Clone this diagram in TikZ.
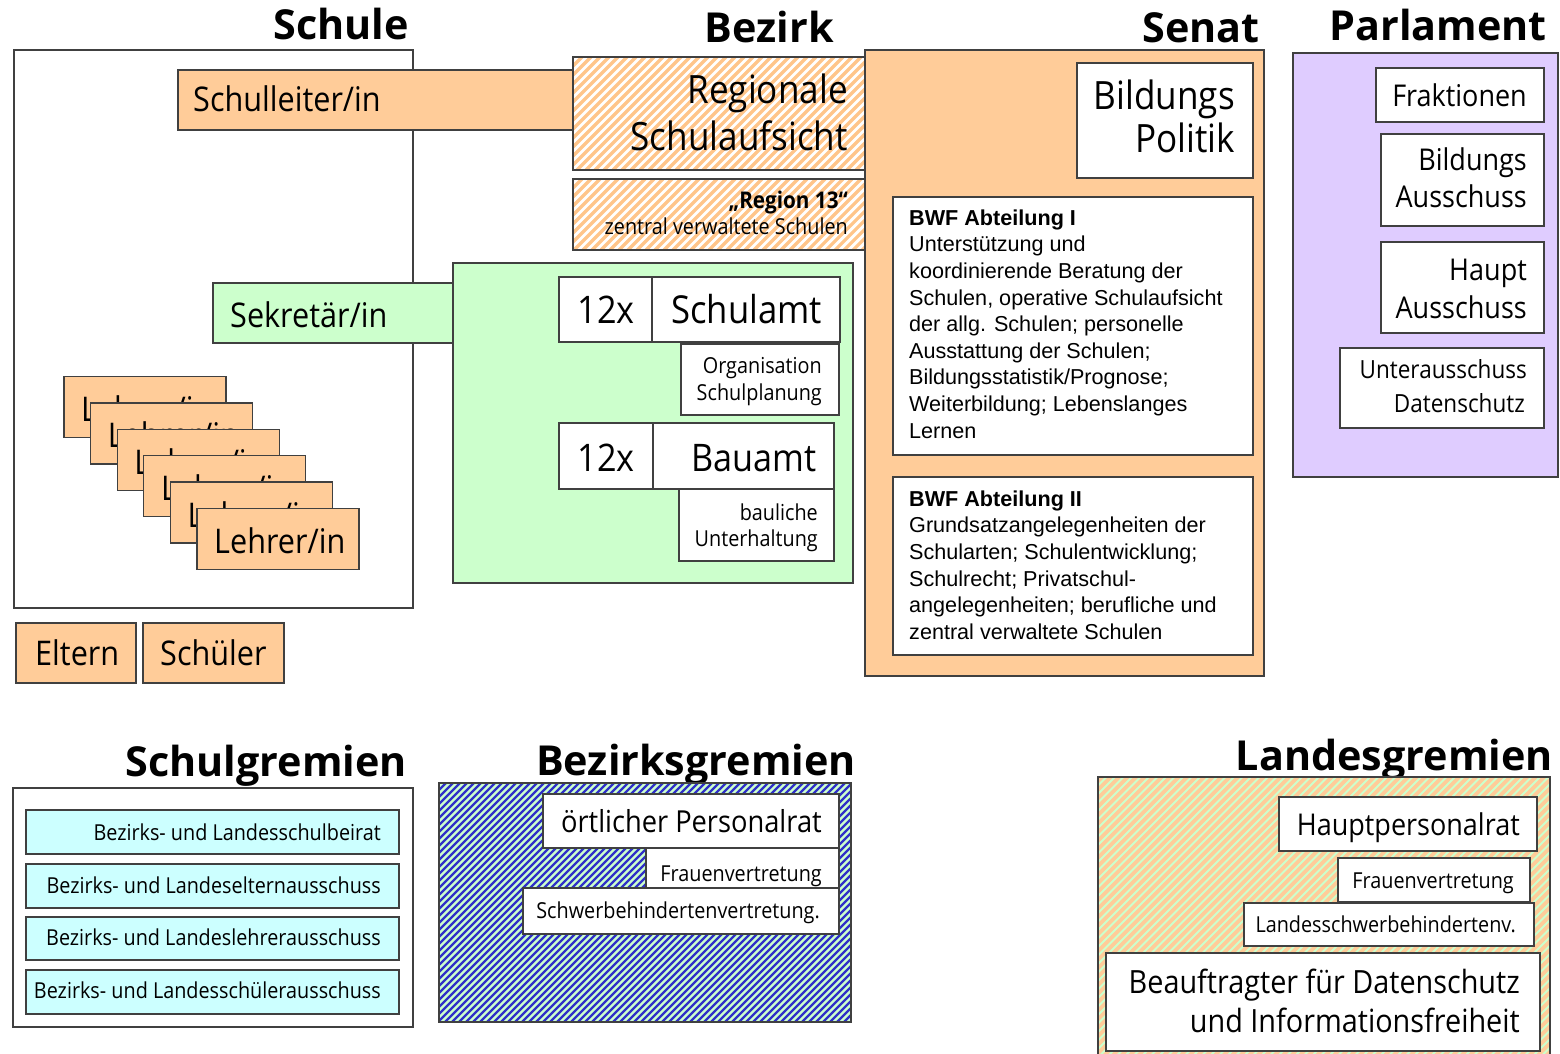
\documentclass[tikz,border=0pt]{standalone}
\usepackage{fontspec}
\setmainfont{Open Sans}[FakeStretch=0.9]
\newfontfamily\headfont{Open Sans}
\newfontfamily\arialfont{Liberation Sans}
\definecolor{edge}{HTML}{404040}
\definecolor{peach}{HTML}{FFCC99}
\definecolor{mint}{HTML}{CCFFCC}
\definecolor{aqua}{HTML}{CCFFFF}
\definecolor{lilac}{HTML}{DFCCFF}
\definecolor{stripeorange}{HTML}{FFC58A}
\definecolor{stripeblue}{HTML}{3030C8}
\newcommand\fsz[1]{\fontsize{#1}{#1}\selectfont}
% diagonal stripes clipped to a rectangle: x1, y1, x2, y2, colour, period, width
\newcommand\stripes[7]{%
  \begin{scope}
    \clip (#1,#2) rectangle (#3,#4);
    \pgfmathsetmacro\hh{#4-#2}
    \pgfmathtruncatemacro\nn{(#3-#1+\hh)/#6+1}
    \foreach \i in {0,...,\nn}
      \draw[#5, line width=#7pt] ({#1-\hh+\i*#6},#4) -- ++(\hh,-\hh);
  \end{scope}}
\begin{document}
\begin{tikzpicture}[x=1pt,y=-1pt,
  frame/.style={draw=edge, line width=1.3pt},
  txt/.style={inner sep=0pt, text=black},
  tr/.style={txt, anchor=base east},
  tl/.style={txt, anchor=base west},
  tc/.style={txt, anchor=base},
  head/.style={tr, font=\headfont\bfseries\fsz{41.3}},
  big/.style={font=\fsz{34}},
  small/.style={font=\fsz{22}},
  bwf/.style={txt, anchor=north west, align=left,
    font=\arialfont\fontsize{21.6}{26.6}\selectfont},
]
\useasboundingbox[fill=white] (0,0) rectangle (1560,1054);

% ---------- headings ----------
\node[head] (hSchule) at (409,40) {Schule};
\node[head] (hBezirk) at (834,43) {Bezirk};
\node[head] (hSenat) at (1260,43) {Senat};
\node[head] (hParlament) at (1547,41) {Parlament};
\node[head] (hSchulgremien) at (407,776) {Schulgremien};
\node[head] (hBezirksgremien) at (856,775) {Bezirksgremien};
\node[head] (hLandesgremien) at (1553,770) {Landesgremien};

% ---------- Schule ----------
\draw[frame, fill=white] (14,50) rectangle (413,608);
\draw[frame, fill=peach] (178,70) rectangle (573,130);
\node[tl, big] (tSchulleiter) at (193,112) {Schulleiter/in};

\foreach \i in {0,...,5} {
  \pgfmathsetmacro\lx{64+26.6*\i}
  \pgfmathsetmacro\ly{376.5+26.4*\i}
  \draw[frame, fill=peach] (\lx,\ly) rectangle ++(162,61);
  \node[tl, big] (lehrer\i) at ({\lx+17},{\ly+45}) {Lehrer/in};
}

\draw[frame, fill=peach] (16,623) rectangle (136,683);
\node[tl, big] (tEltern) at (35,665) {Eltern};
\draw[frame, fill=peach] (143,623) rectangle (284,683);
\node[tl, big] (tSchueler) at (160,665) {Schüler};

% ---------- Bezirk ----------
\fill[white] (573,57) rectangle (865,170);
\stripes{573}{57}{865}{170}{stripeorange}{9}{3.2}
\draw[frame] (573,57) rectangle (865,170);
\node[tr, font=\fsz{39}] (tRegA) at (848,104) {Regionale};
\node[tr, font=\fsz{39}] (tRegB) at (848,150) {Schulaufsicht};

\fill[white] (573,179) rectangle (865,250);
\stripes{573}{179}{865}{250}{stripeorange}{9}{3.2}
\draw[frame] (573,179) rectangle (865,250);
\node[tr, font=\bfseries\fsz{23}] (tR13a) at (848,208) {„Region 13“};
\node[tr, small] (tR13b) at (848,234) {zentral verwaltete Schulen};

\draw[frame, fill=mint] (453,263) rectangle (853,583);
\draw[frame, fill=mint] (213,283) rectangle (453,343);
\node[tl, big] (tSekretaer) at (230,327) {Sekretär/in};

\draw[frame, fill=white] (559,277) rectangle (652,342);
\draw[frame, fill=white] (652,277) rectangle (840,342);
\node[tc, font=\fsz{38}] (tN1) at (606,323) {12x};
\node[tr, font=\fsz{38.5}] (tSchulamt) at (822,323) {Schulamt};
\draw[frame, fill=white] (681,344) rectangle (839,415);
\node[tr, small] (tOrgA) at (822,373) {Organisation};
\node[tr, small] (tOrgB) at (822,400) {Schulplanung};

\draw[frame, fill=white] (559,423) rectangle (653,489);
\draw[frame, fill=white] (653,423) rectangle (834,489);
\node[tc, font=\fsz{38}] (tN2) at (606,471) {12x};
\node[tr, font=\fsz{38}] (tBauamt) at (817,471) {Bauamt};
\draw[frame, fill=white] (679,489) rectangle (834,561);
\node[tr, small] (tBauA) at (818,520) {bauliche};
\node[tr, small] (tBauB) at (818,546) {Unterhaltung};

% ---------- Senat ----------
\draw[frame, fill=peach] (865,50) rectangle (1264,676);
\draw[frame, fill=white] (1077,63) rectangle (1253,178);
\node[tr, font=\fsz{39}] (tPolA) at (1235,110) {Bildungs};
\node[tr, font=\fsz{39}] (tPolB) at (1235,152) {Politik};

\draw[frame, fill=white] (893,197) rectangle (1253,455);
\node[bwf] (tBWF1) at (909,209.5) {\textbf{BWF Abteilung I}\\
  Unterstützung und\\
  koordinierende Beratung der\\
  Schulen, operative Schulaufsicht\\
  der allg. Schulen; personelle\\
  Ausstattung der Schulen;\\
  Bildungsstatistik/Prognose;\\
  Weiterbildung; Lebenslanges\\
  Lernen};

\draw[frame, fill=white] (893,477) rectangle (1253,655);
\node[bwf] (tBWF2) at (909,490.5) {\textbf{BWF Abteilung II}\\
  Grundsatzangelegenheiten der\\
  Schularten; Schulentwicklung;\\
  Schulrecht; Privatschul-\\
  angelegenheiten; berufliche und\\
  zentral verwaltete Schulen};

% ---------- Parlament ----------
\draw[frame, fill=lilac] (1293,53) rectangle (1558,477);
\draw[frame, fill=white] (1376,68) rectangle (1544,122);
\node[tr, font=\fsz{30}] (tFrak) at (1527,107) {Fraktionen};
\draw[frame, fill=white] (1381,134) rectangle (1544,226);
\node[tr, font=\fsz{30}] (tBAa) at (1527,170) {Bildungs};
\node[tr, font=\fsz{30}] (tBAb) at (1527,207) {Ausschuss};
\draw[frame, fill=white] (1381,242) rectangle (1544,333);
\node[tr, font=\fsz{30}] (tHAa) at (1527,280) {Haupt};
\node[tr, font=\fsz{30}] (tHAb) at (1527,318) {Ausschuss};
\draw[frame, fill=white] (1340,348) rectangle (1544,428);
\node[tr, font=\fsz{25}] (tUAa) at (1527,378) {Unterausschuss};
\node[tr, font=\fsz{25}] (tUAb) at (1525,412) {Datenschutz};

% ---------- Schulgremien ----------
\draw[frame, fill=white] (13,788) rectangle (413,1027);
\draw[frame, fill=aqua] (26,810) rectangle (399,854);
\node[tr, small] (tSG1) at (381,840) {Bezirks- und Landesschulbeirat};
\draw[frame, fill=aqua] (26,864) rectangle (399,908);
\node[tr, small] (tSG2) at (381,893) {Bezirks- und Landeselternausschuss};
\draw[frame, fill=aqua] (26,917) rectangle (399,960);
\node[tr, small] (tSG3) at (381,945) {Bezirks- und Landeslehrerausschuss};
\draw[frame, fill=aqua] (26,970) rectangle (399,1014);
\node[tr, small] (tSG4) at (381,998) {Bezirks- und Landesschülerausschuss};

% ---------- Bezirksgremien ----------
\fill[mint] (439,783) rectangle (851,1022);
\stripes{439}{783}{851}{1022}{stripeblue}{7}{2.3}
\draw[frame] (439,783) rectangle (851,1022);
\draw[frame, fill=white] (543,794) rectangle (839,848);
\node[tr, font=\fsz{30.3}] (tOePR) at (822,832) {örtlicher Personalrat};
\draw[frame, fill=white] (646,848) rectangle (839,888);
\node[tr, small] (tFVb) at (822,881) {Frauenvertretung};
\draw[frame, fill=white] (523,888) rectangle (839,934);
\node[tr, small] (tSBV) at (820,918) {Schwerbehindertenvertretung.};

% ---------- Landesgremien ----------
\fill[peach] (1098,777) rectangle (1550,1060);
\stripes{1098}{777}{1550}{1060}{mint}{8.5}{2}
\draw[frame] (1098,777) rectangle (1550,1060);
\draw[frame, fill=white] (1279,797) rectangle (1537,851);
\node[tr, font=\fsz{30}] (tHPR) at (1520,835) {Hauptpersonalrat};
\draw[frame, fill=white] (1338,858) rectangle (1530,902);
\node[tr, small] (tFVl) at (1514,888) {Frauenvertretung};
\draw[frame, fill=white] (1244,903) rectangle (1534,946);
\node[tr, small] (tLSBV) at (1516,932) {Landesschwerbehindertenv.};
\draw[frame, fill=white] (1106,953) rectangle (1540,1051);
\node[tr, font=\fsz{32}] (tBfDa) at (1520,993) {Beauftragter für Datenschutz};
\node[tr, font=\fsz{32}] (tBfDb) at (1520,1032) {und Informationsfreiheit};
\end{tikzpicture}
\end{document}
